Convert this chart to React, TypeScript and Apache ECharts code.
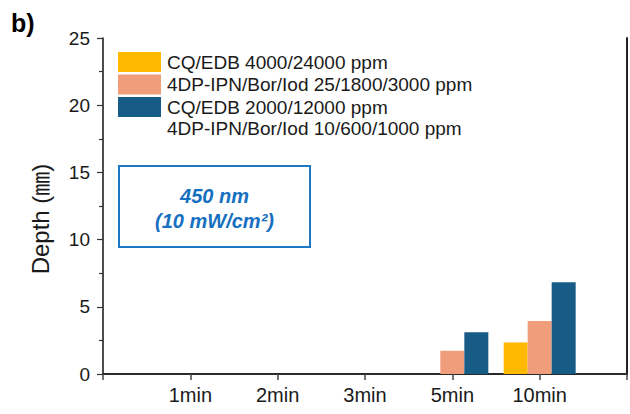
import React, { useEffect, useRef } from "react";
import * as echarts from "echarts";

const categories = ["1min", "2min", "3min", "5min", "10min"];
const seriesNames = [
  "CQ/EDB 4000/24000 ppm",
  "4DP-IPN/Bor/Iod 25/1800/3000 ppm",
  "CQ/EDB 2000/12000 ppm",
];
const extraLegendLine = "4DP-IPN/Bor/Iod 10/600/1000 ppm";
const yellowValues = [0, 0, 0, 0, 2.35];
const pinkValues = [0, 0, 0, 1.73, 3.94];
const blueValues = [0, 0, 0, 3.1, 6.82];
const seriesColors = ["#FFB900", "#F09D7B", "#175B87"];
const yTicks = { min: 0, max: 25, interval: 5 };

const FONT = "'Liberation Sans', Arial, 'Noto Sans CJK JP', sans-serif";

export default function App() {
  const ref = useRef<HTMLDivElement>(null);
  useEffect(() => {
    if (!ref.current) return;
    const chart = echarts.init(ref.current, null, { renderer: "svg" });
    const axisData = ["", ...categories, ""];
    const pad = (arr: number[]) => [null, ...arr, null];
    const allValues = [yellowValues, pinkValues, blueValues];
    chart.setOption({
      animation: false,
      backgroundColor: "#ffffff",
      textStyle: { fontFamily: FONT },
      grid: { left: 103, right: 1, top: 38, bottom: 40, containLabel: false },
      legend: {
        orient: "vertical",
        left: 118,
        top: 52,
        padding: 0,
        itemWidth: 43,
        itemHeight: 20,
        itemGap: 2.5,
        icon: "rect",
        data: seriesNames,
        textStyle: { fontFamily: FONT, fontSize: 19, color: "#1a1a1a", padding: [0, 0, 0, 1] },
      },
      xAxis: [
        {
          type: "category",
          data: axisData,
          boundaryGap: false,
          axisLine: { show: true, lineStyle: { color: "#444", width: 2 } },
          axisTick: { show: true, inside: false, length: 6, lineStyle: { color: "#444", width: 1.5 } },
          axisLabel: { fontFamily: FONT, fontSize: 20, color: "#1a1a1a", margin: 11, interval: 0 },
          splitLine: { show: false },
        },
        {
          type: "category",
          position: "top",
          data: axisData,
          boundaryGap: false,
          axisLine: { show: true, lineStyle: { color: "#222", width: 1.5 } },
          axisTick: { show: false },
          axisLabel: { show: false },
          splitLine: { show: false },
        },
      ],
      yAxis: [
        {
          type: "value",
          min: yTicks.min,
          max: yTicks.max,
          interval: yTicks.interval,
          name: "Depth (㎜)",
          nameLocation: "middle",
          nameGap: 51,
          nameTextStyle: { fontFamily: FONT, fontSize: 24, color: "#1a1a1a", padding: [0, 26, 0, 0] },
          axisLine: { show: true, lineStyle: { color: "#111", width: 1.5 } },
          axisTick: { show: true, inside: false, length: 6, lineStyle: { color: "#333", width: 1.2 } },
          minorTick: { show: true, splitNumber: 2, length: 4, lineStyle: { color: "#333", width: 1.2 } },
          axisLabel: { fontFamily: FONT, fontSize: 19, color: "#1a1a1a", margin: 13 },
          splitLine: { show: false },
        },
        {
          type: "value",
          position: "right",
          min: yTicks.min,
          max: yTicks.max,
          interval: yTicks.interval,
          axisLine: { show: true, lineStyle: { color: "#222", width: 2 } },
          axisTick: { show: false },
          axisLabel: { show: false },
          splitLine: { show: false },
        },
      ],
      series: seriesNames.map((name, i) => ({
        name,
        type: "bar",
        xAxisIndex: 0,
        yAxisIndex: 0,
        barWidth: 24,
        barGap: "0%",
        itemStyle: { color: seriesColors[i] },
        data: pad(allValues[i]),
      })),
      graphic: [
        {
          type: "text",
          left: 11,
          top: 10,
          style: { text: "b)", fontFamily: FONT, fontSize: 25, fontWeight: "bold", fill: "#000" },
        },
        {
          type: "text",
          left: 167,
          top: 119,
          style: { text: extraLegendLine, fontFamily: FONT, fontSize: 19, fill: "#1a1a1a" },
        },
        {
          type: "rect",
          shape: { x: 119, y: 166, width: 191, height: 81 },
          style: { fill: "#ffffff", stroke: "#1B78C4", lineWidth: 2 },
          z: 10,
        },
        {
          type: "text",
          x: 214.5,
          y: 196,
          z: 11,
          style: {
            text: "450 nm",
            fontFamily: FONT,
            fontSize: 20,
            fontWeight: "bold",
            fontStyle: "italic",
            fill: "#1670BF",
            align: "center",
            verticalAlign: "middle",
          },
        },
        {
          type: "text",
          x: 214.5,
          y: 221,
          z: 11,
          style: {
            text: "(10 mW/cm²)",
            fontFamily: FONT,
            fontSize: 20,
            fontWeight: "bold",
            fontStyle: "italic",
            fill: "#1670BF",
            align: "center",
            verticalAlign: "middle",
          },
        },
      ],
    });
    return () => chart.dispose();
  }, []);
  return (
    <div
      ref={ref}
      style={{ position: "fixed", left: 0, top: 0, width: 630, height: 414, background: "#fff" }}
    />
  );
}
